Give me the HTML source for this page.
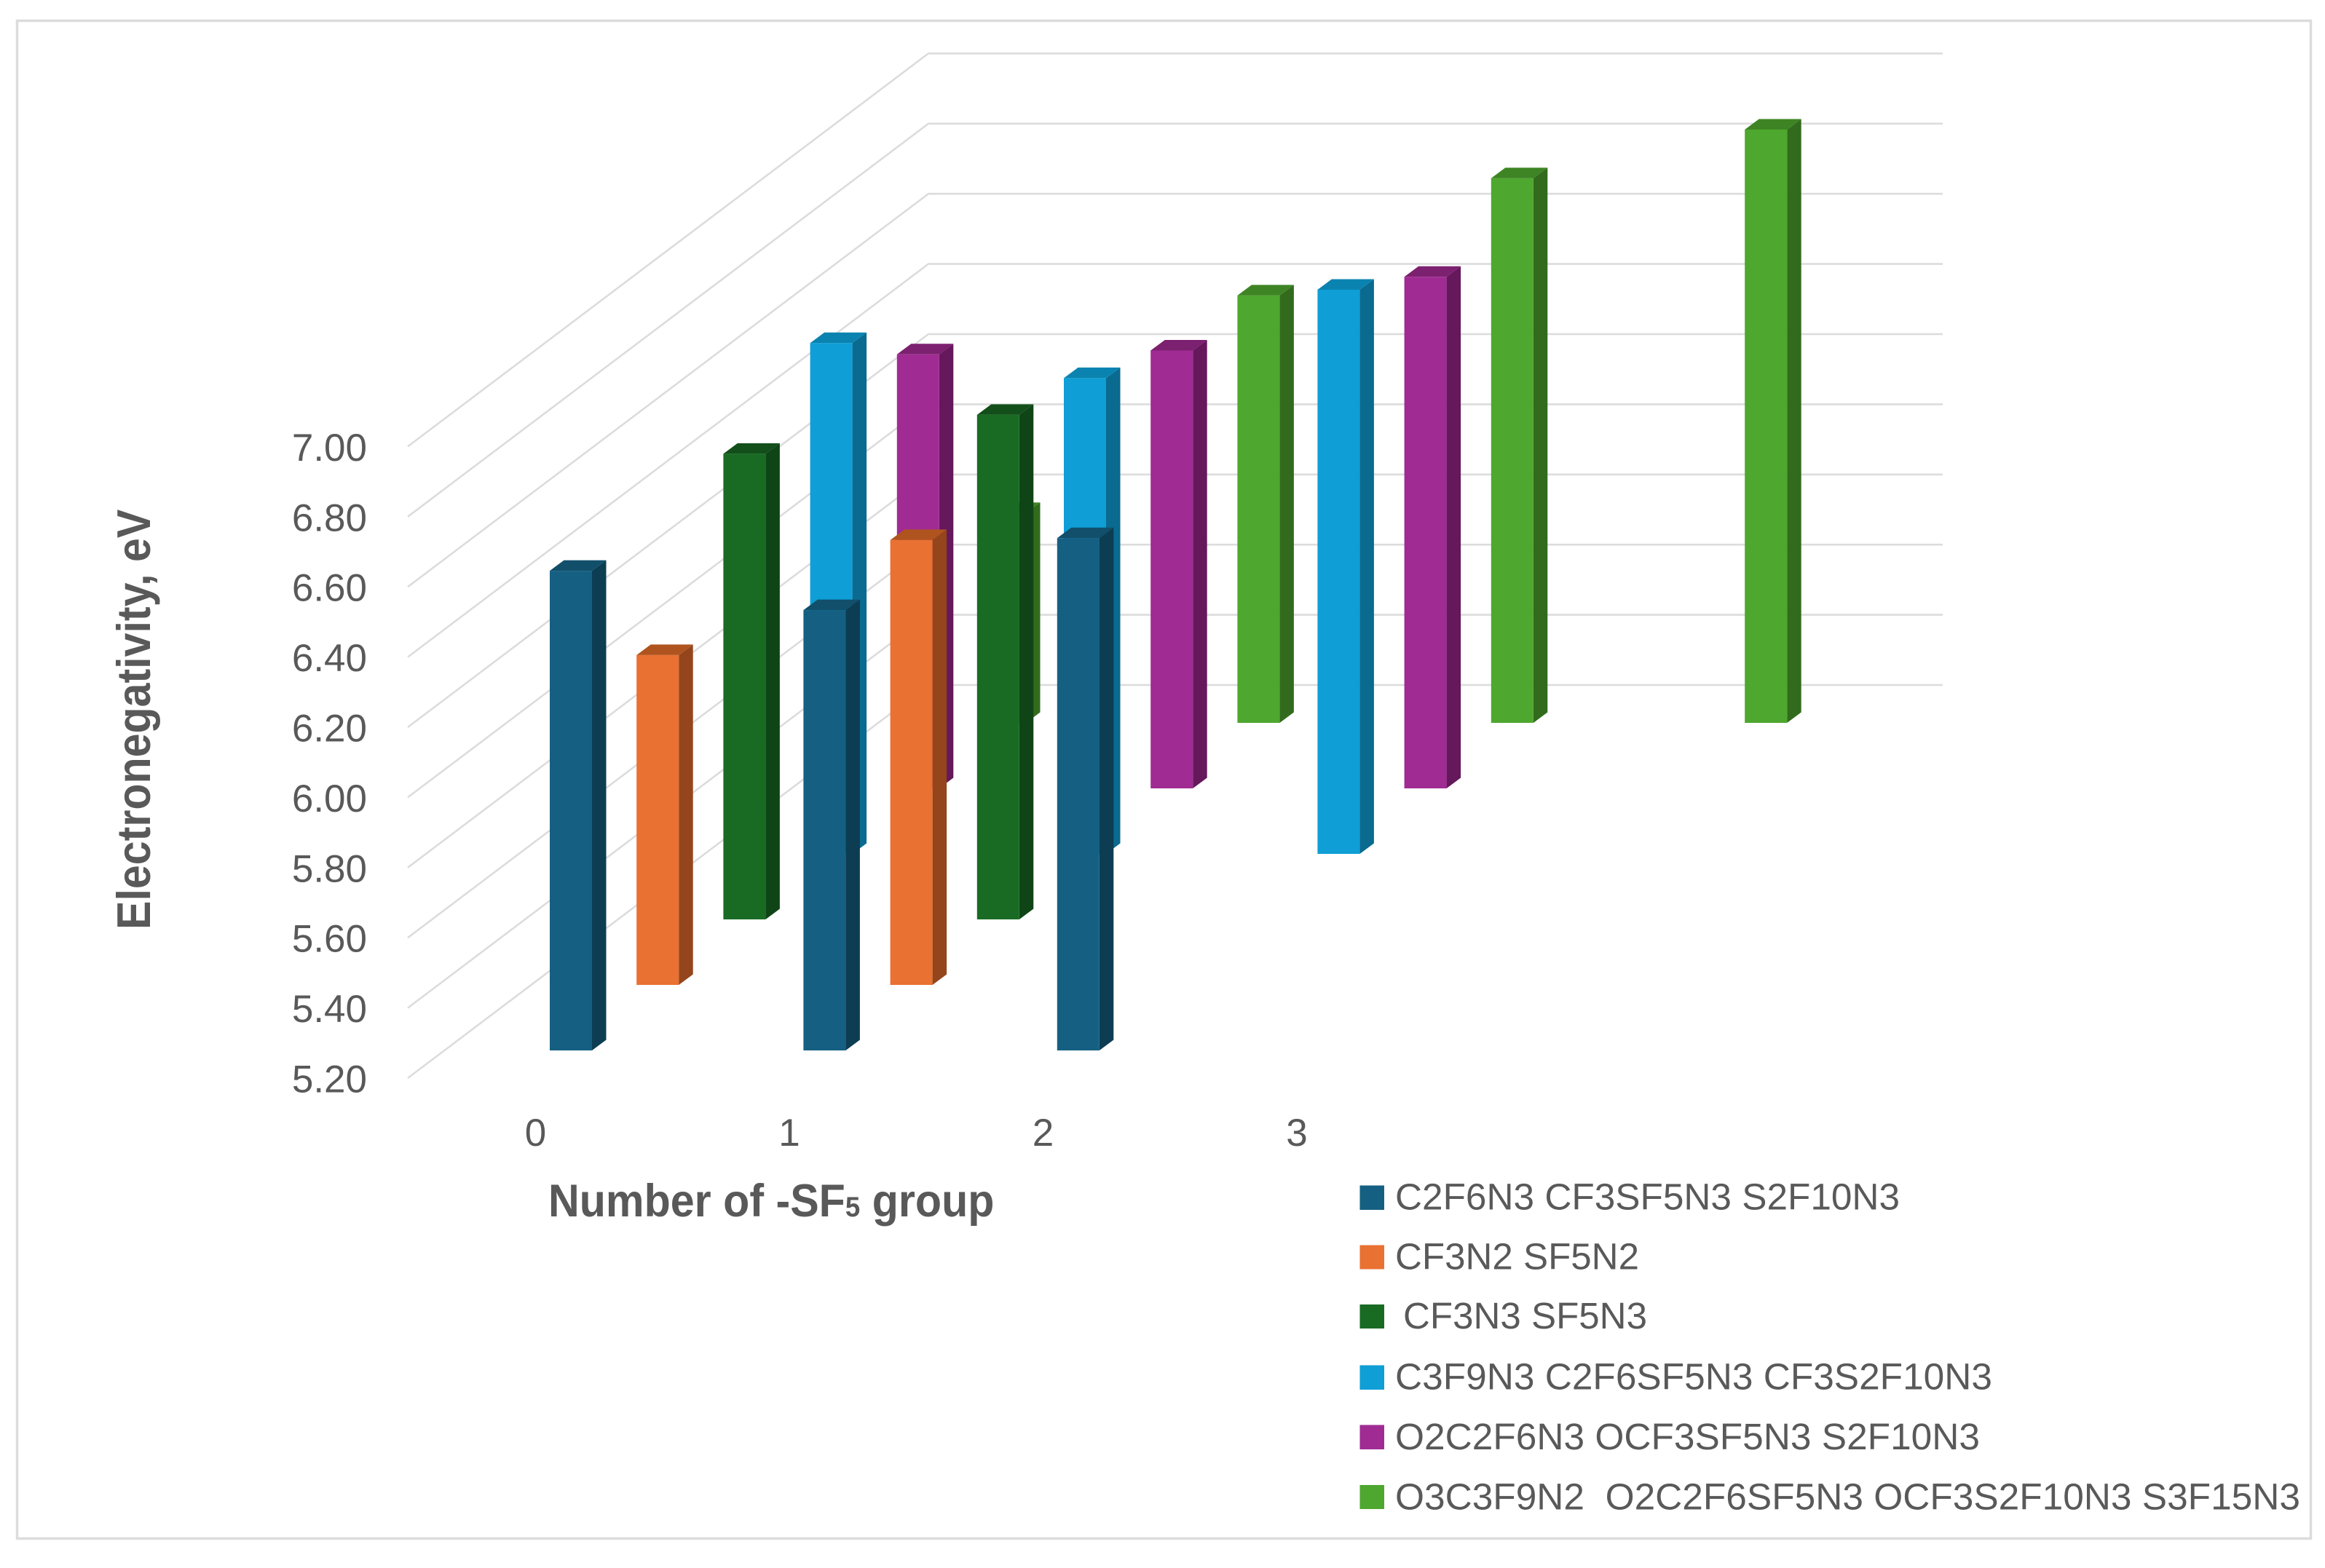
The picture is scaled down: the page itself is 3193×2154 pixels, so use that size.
<!DOCTYPE html>
<html lang="en">
<head>
<meta charset="utf-8">
<title>Electronegativity vs number of -SF5 groups</title>
<style>
html,body{margin:0;padding:0;background:#fff;}
svg{display:block;font-family:"Liberation Sans",sans-serif;}
</style>
</head>
<body>
<svg id="chart" xmlns="http://www.w3.org/2000/svg" width="3193" height="2154" viewBox="0 0 3193 2154">
  <rect x="23.5" y="28.5" width="3150" height="2085" fill="#fff" stroke="#dcdcdc" stroke-width="3.5"/>
  <g id="grid"></g>
  <g id="bars"></g>
  <g id="ticks"></g>

  <text transform="translate(206,1277) rotate(-90) scale(.91,1)" font-size="65" font-weight="700" fill="#595959">Electronegativity, eV</text>
  <text transform="translate(753,1671) scale(.94,1)" font-size="63" font-weight="700" fill="#595959">Number of -SF<tspan font-size="39">5</tspan> group</text>

  <g font-size="51" fill="#595959">
    <g>
      <rect x="1867.5" y="1628.5" width="33.5" height="33.5" fill="#156082"/>
      <text x="1916" y="1661.5" textLength="693" lengthAdjust="spacingAndGlyphs">C2F6N3 CF3SF5N3 S2F10N3</text>
    </g>
    <g>
      <rect x="1867.5" y="1710.5" width="33.5" height="33" fill="#E97132"/>
      <text x="1916" y="1743.5" textLength="335" lengthAdjust="spacingAndGlyphs">CF3N2 SF5N2</text>
    </g>
    <g>
      <rect x="1867.5" y="1792" width="33.5" height="33" fill="#196B24"/>
      <text x="1927" y="1825" textLength="335" lengthAdjust="spacingAndGlyphs">CF3N3 SF5N3</text>
    </g>
    <g>
      <rect x="1867.5" y="1875.5" width="33.5" height="33.5" fill="#0F9ED5"/>
      <text x="1916" y="1908.5" textLength="820" lengthAdjust="spacingAndGlyphs">C3F9N3 C2F6SF5N3 CF3S2F10N3</text>
    </g>
    <g>
      <rect x="1867.5" y="1957.5" width="33.5" height="33.5" fill="#A02B93"/>
      <text x="1916" y="1991" textLength="803" lengthAdjust="spacingAndGlyphs">O2C2F6N3 OCF3SF5N3 S2F10N3</text>
    </g>
    <g>
      <rect x="1867.5" y="2040" width="33.5" height="33" fill="#4EA72E"/>
      <text x="1916" y="2073.5" textLength="1243" lengthAdjust="spacingAndGlyphs">O3C3F9N2&#160; O2C2F6SF5N3 OCF3S2F10N3 S3F15N3</text>
    </g>
  </g>
</svg>
<script>
// ---- chart data ----
const categories = ["0", "1", "2", "3"];
const yTickLabels = ["5.20", "5.40", "5.60", "5.80", "6.00", "6.20", "6.40", "6.60", "6.80", "7.00"];
const seriesC2F6 = [6.567, 6.455, 6.66, null];
const seriesCF3N2 = [6.14, 6.468, null, null];
const seriesCF3N3 = [6.527, 6.638, null, null];
const seriesC3F9 = [6.656, 6.556, 6.808, null];
const seriesO2C2 = [6.437, 6.448, 6.658, null];
const seriesO3C3 = [5.798, 6.418, 6.752, 6.891];
const seriesValues = [seriesC2F6, seriesCF3N2, seriesCF3N3, seriesC3F9, seriesO2C2, seriesO3C3];
const faceFront = ["#156082", "#E97132", "#196B24", "#0F9ED5", "#A02B93", "#4EA72E"];
const faceSide = ["#0C3D53", "#94451C", "#0F4516", "#0A6A8F", "#65185C", "#326B1D"];
const faceTop = ["#114F6B", "#B0541F", "#124F1A", "#0B83B0", "#7C2070", "#3E8424"];

// ---- axis functions ----
const NS = "http://www.w3.org/2000/svg";
const yMin = 5.2;
const pxPerUnit = 482;
const frontFloorY = 1481, frontWallX = 560, backWallX = 1275, backFloorY = 941, rightX = 2668;
const barW = 58, depthX = 19.5, depthY = 14.5;
function valueHeight(v) { return (v - yMin) * pxPerUnit; }
function frontGridY(v) { return frontFloorY - valueHeight(v); }
function backGridY(v) { return backFloorY - valueHeight(v); }
function barX(c, s) { return 755 + 348.4 * c + 119.2 * s; }
function barBaseY(s) { return 1443 - 90 * s; }
function categoryX(c) { return 735.5 + 348.5 * c; }

function mk(tag, attrs, parent) {
  const el = document.createElementNS(NS, tag);
  for (const k in attrs) el.setAttribute(k, attrs[k]);
  parent.appendChild(el);
  return el;
}

// ---- gridlines and tick labels ----
const gridG = document.getElementById("grid");
const ticksG = document.getElementById("ticks");
yTickLabels.forEach(function (label) {
  const v = parseFloat(label);
  const line = mk("polyline", {
    points: frontWallX + "," + frontGridY(v) + " " + backWallX + "," + backGridY(v) + " " + rightX + "," + backGridY(v),
    fill: "none", stroke: "#dcdcdc", "stroke-width": 2.6
  }, gridG);
  
  
  const t = mk("text", {
    x: 504, y: frontGridY(v) + 19.5, "text-anchor": "end", "font-size": 53, fill: "#595959"
  }, ticksG);
  t.textContent = label;
  
  
});
categories.forEach(function (label, c) {
  const t = mk("text", {
    x: categoryX(c), y: 1574, "text-anchor": "middle", "font-size": 53, fill: "#595959"
  }, ticksG);
  t.textContent = label;
  
  
});

// ---- bars, drawn back to front ----
const barsG = document.getElementById("bars");
for (let s = seriesValues.length - 1; s >= 0; s--) {
  seriesValues[s].forEach(function (v, c) {
    if (v === null) return;
    const x = barX(c, s), base = barBaseY(s), top = base - valueHeight(v);
    const g = mk("g", {}, barsG);
    
    
    const side = mk("polygon", {
      points: (x + barW) + "," + top + " " + (x + barW + depthX) + "," + (top - depthY) + " " +
              (x + barW + depthX) + "," + (base - depthY) + " " + (x + barW) + "," + base,
      fill: faceSide[s]
    }, g);
    
    
    const topFace = mk("polygon", {
      points: x + "," + top + " " + (x + depthX) + "," + (top - depthY) + " " +
              (x + barW + depthX) + "," + (top - depthY) + " " + (x + barW) + "," + top,
      fill: faceTop[s]
    }, g);
    
    
    const front = mk("rect", {
      x: x, y: top, width: barW, height: base - top, fill: faceFront[s]
    }, g);
    
    
  });
}
</script>
</body>
</html>
